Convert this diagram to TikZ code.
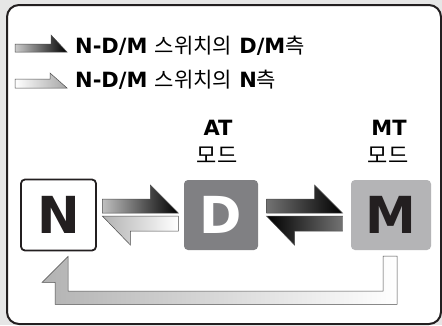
\documentclass[tikz,border=0pt]{standalone}
\usepackage{fontspec}
\setmainfont{DejaVu Sans}
\newfontfamily\krfont{Noto Sans CJK KR}
\usetikzlibrary{calc}
\definecolor{bggray}{HTML}{E6E6E6}
\definecolor{framec}{HTML}{231F20}
\definecolor{dboxc}{HTML}{808083}
\definecolor{mboxc}{HTML}{B4B4B6}

\tikzset{
  modebox/.style={rounded corners=4pt, minimum width=75pt, minimum height=71pt, inner sep=0pt,
    font=\fontsize{51}{51}\selectfont\bfseries},
  legtext/.style={anchor=base west, inner sep=0pt, font=\fontsize{21}{24}\selectfont\bfseries},
  modelbl/.style={anchor=base, inner sep=0pt, font=\fontsize{21}{24}\selectfont\bfseries},
  blockarr/.style={draw=black!70, line width=0.5pt},
  darkarr/.style={blockarr, left color=black!25, middle color=black!80, right color=black},
  lightarr/.style={blockarr, left color=black!30, right color=white}
}
\newcommand{\kr}[1]{{\krfont\mdseries\fontsize{21}{24}\selectfont #1}}

\begin{document}
\begin{tikzpicture}[x=1pt, y=-1pt]
  \fill[bggray] (0,0) rectangle (442,325);
  \useasboundingbox (0,0) rectangle (442,325);
  \draw[framec, line width=2pt, fill=white, rounded corners=12pt] (7,5) rectangle (441,324);

  % legend
  \draw[blockarr, left color=black!20, right color=black] (15,52) -- (15,44) -- (51,44) -- (51,35) -- (67,52) -- cycle;
  \draw[blockarr, left color=white, right color=black!35] (15,88) -- (15,79) -- (50,79) -- (50,73) -- (67,88) -- cycle;
  \node[legtext] (legdm) at (75,53) {N-D/M \kr{스위치의} D/M\kr{측}};
  \node[legtext] (legn) at (75,87) {N-D/M \kr{스위치의} N\kr{측}};

  % modes
  \node[modebox, draw=framec, line width=1.8pt, fill=white, text=framec] (nbox) at (58.5,215) {N};
  \node[modebox, fill=dboxc, text=white, minimum width=74pt, minimum height=70pt] (dbox) at (221,215) {D};
  \node[modebox, fill=mboxc, text=framec, minimum width=80pt, minimum height=70pt] (mbox) at (391,215) {M};

  \node[modelbl] (atlbl) at (218,135) {AT};
  \node[modelbl, font=\krfont\fontsize{22}{24}\selectfont] (atmode) at (217,163) {모드};
  \node[modelbl] (mtlbl) at (389,135) {MT};
  \node[modelbl, font=\krfont\fontsize{22}{24}\selectfont] (mtmode) at (388,163) {모드};

  % shift arrows
  \coordinate (nd) at ($(nbox.east)!0.5!(dbox.west)$);
  \coordinate (dm) at ($(dbox.east)!0.5!(mbox.west)$);
  \draw[darkarr, shift={(nd)}] (-38,-2) -- ++(0,-14) -- ++(48,0) -- ++(0,-14) -- ++(28,28) -- cycle;
  \draw[lightarr, shift={(nd)}] (-38,1) -- ++(28,29) -- ++(0,-14) -- ++(48,0) -- ++(0,-15) -- cycle;
  \draw[blockarr, left color=black!55, right color=black, shift={(dm)}] (-38,-2) -- ++(0,-14) -- ++(48,0) -- ++(0,-14) -- ++(28,28) -- cycle;
  \draw[blockarr, left color=black, middle color=black!85, right color=black!55, shift={(dm)}] (-38,1) -- ++(28,29) -- ++(0,-14) -- ++(48,0) -- ++(0,-15) -- cycle;

  % M back to N
  \coordinate (rtip) at ($(nbox.south)+(9.5,5)$);
  \coordinate (rtail) at ($(mbox.south)+(-8,6)$);
  \draw[lightarr] (rtip) -- ++(-26,26) -- ++(13,0) -- ++(0,22) -| ($(rtail)+(14,0)$) -- (rtail) -- ++(0,35) -| (rtip) -- cycle;
\end{tikzpicture}
\end{document}
